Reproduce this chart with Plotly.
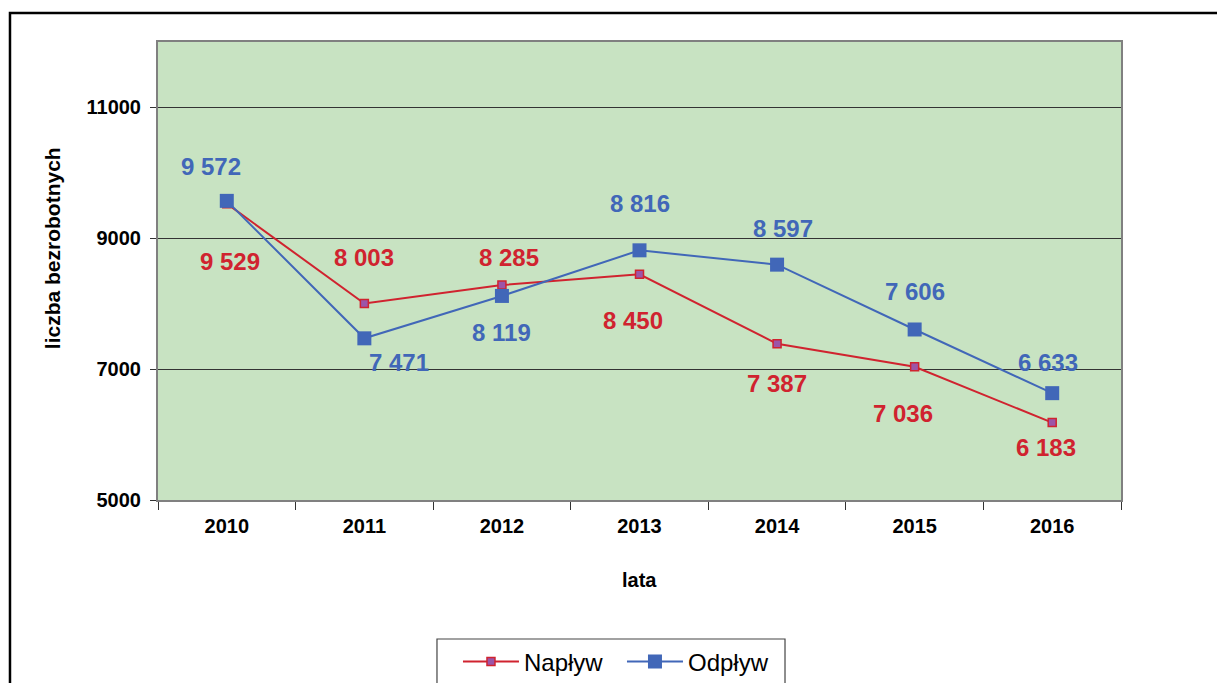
import plotly.graph_objects as go

lata = ["2010", "2011", "2012", "2013", "2014", "2015", "2016"]
naplyw = [9529, 8003, 8285, 8450, 7387, 7036, 6183]
odplyw = [9572, 7471, 8119, 8816, 8597, 7606, 6633]

# przesunięcia etykiet (px) względem punktów
naplyw_shift = [(3, -58), (0, 46), (7, 28), (-7, -46), (0, -40), (-12, -47), (-6, -25)]
odplyw_shift = [(-16, 34), (35, -24), (0, -37), (0, 47), (6, 36), (0, 38), (-4, 31)]

red = "#D0232F"
blue = "#4167B8"
font = "Liberation Sans, Arial, sans-serif"

fig = go.Figure()

fig.add_trace(go.Scatter(
    x=lata, y=naplyw, name="Napływ", mode="lines+markers",
    line=dict(color=red, width=2),
    marker=dict(symbol="square", size=8, color="#9C55A8", line=dict(color=red, width=1.5))
))
fig.add_trace(go.Scatter(
    x=lata, y=odplyw, name="Odpływ", mode="lines+markers",
    line=dict(color=blue, width=2),
    marker=dict(symbol="square", size=14, color=blue, line=dict(color=blue, width=0))
))

def fmt(v):
    return f"{v:,}".replace(",", " ")

# etykiety danych (x = numer kategorii)
for serie, shifts, col in [(naplyw, naplyw_shift, red), (odplyw, odplyw_shift, blue)]:
    for i, (v, (dx, dy)) in enumerate(zip(serie, shifts)):
        fig.add_annotation(
            x=i, y=v, text=fmt(v), showarrow=False,
            xshift=dx, yshift=dy,
            font=dict(family=font, size=24, color=col, weight="bold")
        )

# tytuły osi
fig.add_annotation(x=-0.110, y=0.550, xref="paper", yref="paper", text="liczba bezrobotnych",
                   textangle=-90, showarrow=False, xanchor="center", yanchor="middle",
                   font=dict(family=font, size=21, color="black", weight="bold"))
fig.add_annotation(x=0.5005, y=-0.1747, xref="paper", yref="paper", text="lata",
                   showarrow=False, xanchor="center", yanchor="middle",
                   font=dict(family=font, size=20, color="black", weight="bold"))

# ramka wokół wykresu (prawa krawędź poza kadrem)
fig.add_shape(type="rect", xref="paper", yref="paper",
              x0=-0.1537, x1=1.2, y0=-0.6, y1=1.0633,
              line=dict(color="black", width=2.5), fillcolor="rgba(0,0,0,0)", layer="below")
# ramka legendy
fig.add_shape(type="rect", xref="paper", yref="paper",
              x0=0.2897, x1=0.6511, y0=-0.5, y1=-0.3035,
              line=dict(color="#444", width=1.2), fillcolor="white", layer="below")

fig.update_layout(
    width=1225, height=683,
    margin=dict(l=150, r=112, t=34, b=191, autoexpand=False),
    paper_bgcolor="white",
    plot_bgcolor="#C8E3C2",
    font=dict(family=font, color="black"),
    showlegend=True,
    legend=dict(
        orientation="h", x=0.3115, y=-0.3537, xanchor="left", yanchor="middle",
        borderwidth=0, bgcolor="rgba(0,0,0,0)",
        font=dict(family=font, size=24, color="black"),
        itemwidth=56, entrywidth=93, tracegroupgap=0
    ),
    xaxis=dict(
        type="category", range=[-0.5, 6.5], tickson="boundaries",
        ticks="outside", ticklen=8, tickcolor="#333", ticklabelstandoff=7,
        showgrid=False, showline=True, mirror=True, linecolor="#808080", linewidth=2,
        tickfont=dict(family=font, size=20, color="black", weight="bold"),
    ),
    yaxis=dict(
        range=[5000, 12000], tickvals=[5000, 7000, 9000, 11000], tickformat="d",
        ticks="outside", ticklen=6, tickcolor="#333", ticklabelstandoff=5,
        showgrid=True, gridcolor="#333", gridwidth=1, zeroline=False,
        showline=True, mirror=True, linecolor="#808080", linewidth=2,
        tickfont=dict(family=font, size=20, color="black", weight="bold"),
    ),
)

fig.write_html("out.html")
